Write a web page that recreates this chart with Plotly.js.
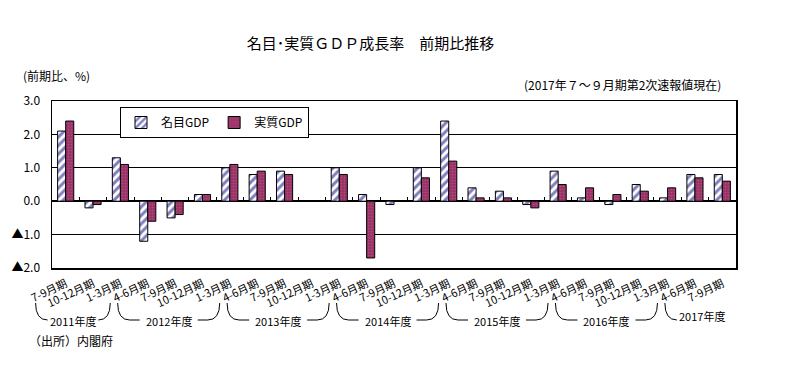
<!DOCTYPE html>
<html>
<head>
<meta charset="utf-8">
<script src="https://cdn.plot.ly/plotly-3.0.1.min.js"></script>
<style>html,body{margin:0;padding:0;background:#fff;}#chart{width:786px;height:374px;}</style>
</head>
<body>
<div id="chart"></div>
<script>
// ---- data ----
const categories = ['7-9月期','10-12月期','1-3月期',
  '4-6月期','7-9月期','10-12月期','1-3月期',
  '4-6月期','7-9月期','10-12月期','1-3月期',
  '4-6月期','7-9月期','10-12月期','1-3月期',
  '4-6月期','7-9月期','10-12月期','1-3月期',
  '4-6月期','7-9月期','10-12月期','1-3月期',
  '4-6月期','7-9月期'];
const nominalGDP = [2.1,-0.2,1.3,-1.2,-0.5,0.2,1.0,0.8,0.9,0.0,1.0,0.2,-0.1,1.0,2.4,0.4,0.3,-0.1,0.9,0.1,-0.1,0.5,0.1,0.8,0.8];
const realGDP    = [2.4,-0.1,1.1,-0.6,-0.4,0.2,1.1,0.9,0.8,0.0,0.8,-1.7,0.0,0.7,1.2,0.1,0.1,-0.2,0.5,0.4,0.2,0.3,0.4,0.7,0.6];
const fiscalYears = ['2011年度','2012年度','2013年度','2014年度','2015年度','2016年度','2017年度'];
const fyStart = [0,3,7,11,15,19,23];
const fyEnd   = [2,6,10,14,18,22,24];
const yTickVals = [-2,-1,0,1,2,3];
const yTickText = ['▲2.0','▲1.0','0.0','1.0','2.0','3.0'];
const seriesNames = ['名目GDP','実質GDP'];

// ---- layout helpers ----
const W = 786, H = 374;
const M = {l:52, r:50, t:101, b:106};
const plotW = W - M.l - M.r, plotH = H - M.t - M.b;
const n = categories.length;
const xIdx = categories.map((_, i) => i);
const FONT = '"Noto Sans CJK JP", "Noto Sans", sans-serif';
const dataToPaperX = d => (d + 0.5) / n;
const pxToPaperY = py => (H - M.b - py) / plotH;

const traces = [
  {type:'bar', name:seriesNames[0], x:xIdx, y:nominalGDP,
   marker:{color:'#ffffff', line:{color:'#000000', width:1},
     pattern:{shape:'/', fillmode:'overlay', bgcolor:'#ffffff', fgcolor:'#000080', size:6, solidity:0.5}},
   hoverinfo:'y'},
  {type:'bar', name:seriesNames[1], x:xIdx, y:realGDP,
   marker:{color:'#993366', line:{color:'#000000', width:1},
     pattern:{shape:'.', fillmode:'overlay', fgcolor:'#c9659a', size:3, solidity:0.25}},
   hoverinfo:'y'},
  {type:'scatter', x:[0], y:[null], xaxis:'x2', showlegend:false, hoverinfo:'skip', mode:'markers'}
];

// brackets under fiscal years
const shapes = [];
const annotations = [];
const yTop = pxToPaperY(303), yBot = pxToPaperY(320);
const cwPx = 12, textHalfPx = 29;
fiscalYears.forEach((fy, k) => {
  const L = dataToPaperX(fyStart[k] - 1.1);
  const open = k === fiscalYears.length - 1;
  const R = dataToPaperX(fyEnd[k] - 0.37);
  const cw = cwPx / plotW, th = textHalfPx / plotW;
  const cx = open ? L + cw + th - 4 / plotW : (L + R) / 2;
  let p = `M ${L} ${yTop} Q ${L} ${yBot} ${L + cw} ${yBot}`;
  if (cx - th > L + cw) p += ` L ${cx - th} ${yBot}`;
  shapes.push({type:'path', xref:'paper', yref:'paper', path:p, line:{color:'#000', width:1}});
  if (!open) {
    let q = `M ${R} ${yTop} Q ${R} ${yBot} ${R - cw} ${yBot}`;
    if (cx + th < R - cw) q += ` L ${cx + th} ${yBot}`;
    shapes.push({type:'path', xref:'paper', yref:'paper', path:q, line:{color:'#000', width:1}});
  }
  annotations.push({xref:'paper', yref:'paper', x:cx, y:pxToPaperY(open ? 316 : 321), text:fy, showarrow:false,
    xanchor:'center', yanchor:'middle', font:{family:FONT, size:11, color:'#000'}});
});

annotations.push(
  {xref:'paper', yref:'paper', x:(21 - M.l)/plotW, y:pxToPaperY(75), text:'(前期比、%)', showarrow:false,
   xanchor:'left', yanchor:'middle', font:{family:FONT, size:12, color:'#000'}},
  {xref:'paper', yref:'paper', x:(723 - M.l)/plotW, y:pxToPaperY(85), text:'(2017年７～９月期第2次速報値現在)', showarrow:false,
   xanchor:'right', yanchor:'middle', font:{family:FONT, size:12, color:'#000'}},
  {xref:'paper', yref:'paper', x:(27 - M.l)/plotW, y:pxToPaperY(340), text:'（出所）内閣府', showarrow:false,
   xanchor:'left', yanchor:'middle', font:{family:FONT, size:12, color:'#000'}}
);

const layout = {
  width:W, height:H, margin:M,
  paper_bgcolor:'#ffffff', plot_bgcolor:'#ffffff',
  font:{family:FONT, size:11, color:'#000'},
  title:{text:'名目･実質ＧＤＰ成長率　前期比推移', x:366/W, xanchor:'center', xref:'paper',
         y:1 - 44/H, yanchor:'middle', yref:'container', font:{family:FONT, size:15, color:'#000'}},
  barmode:'group', bargap:0.41, bargroupgap:0,
  showlegend:true,
  legend:{orientation:'h', x:(120 - M.l)/plotW, y:pxToPaperY(107), xanchor:'left', yanchor:'top',
    bgcolor:'#ffffff', bordercolor:'#000000', borderwidth:1, font:{family:FONT, size:12, color:'#000'},
    traceorder:'normal'},
  xaxis:{range:[-0.5, n - 0.5], tickvals:xIdx, ticktext:categories, tickangle:-25, ticklabelstandoff:4,
    tickfont:{family:FONT, size:11, color:'#000'}, ticks:'', showgrid:false, zeroline:false,
    showline:true, mirror:true, linecolor:'#000', linewidth:1.5, fixedrange:true},
  xaxis2:{overlaying:'x', anchor:'free', position:0.4, side:'top',
    range:[-0.5, n - 0.5], tickvals:xIdx.slice(0, n - 1).map(i => i + 0.5), ticks:'outside', ticklen:4,
    tickcolor:'#000', tickwidth:1, showticklabels:false, showgrid:false, zeroline:false, showline:false},
  yaxis:{range:[-2, 3], tickvals:yTickVals, ticktext:yTickText, ticks:'', showgrid:true, ticklabelstandoff:8,
    gridcolor:'#000', gridwidth:1, zeroline:true, zerolinecolor:'#000', zerolinewidth:1.5,
    showline:true, mirror:true, linecolor:'#000', linewidth:1.5,
    tickfont:{family:FONT, size:12, color:'#000'}, fixedrange:true},
  shapes:shapes, annotations:annotations
};

Plotly.newPlot('chart', traces, layout, {displayModeBar:false, staticPlot:true});
</script>
</body>
</html>
